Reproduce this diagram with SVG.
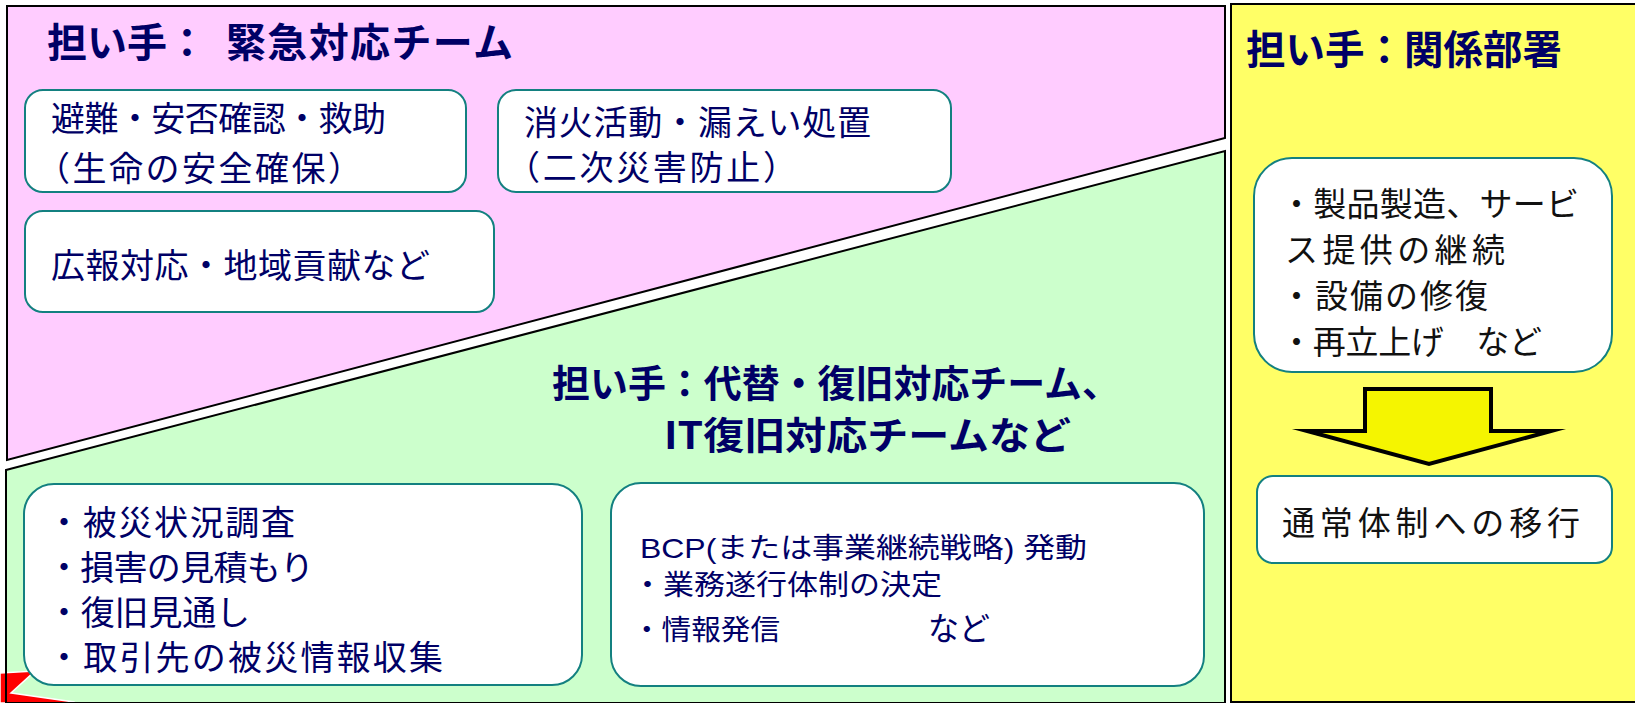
<svg xmlns="http://www.w3.org/2000/svg" width="1635" height="703" viewBox="0 0 1635 703">
<style>
.t{font-family:"Noto Sans CJK JP","Noto Sans CJK SC",sans-serif;fill:#000066}
.h{font-weight:bold;font-size:40px}
.h2{font-weight:bold;font-size:38px}
.b{font-size:34px}
.y{font-size:33px;fill:#111111}
.s{font-size:28px}
.bcp{font-family:"Liberation Sans","Noto Sans CJK JP",sans-serif;font-size:28px;fill:#000066}
.box{fill:#ffffff;stroke:#138080;stroke-width:2}
.edge{stroke:#000000;stroke-width:2}
</style>
<rect width="1635" height="703" fill="#ffffff"/>
<g id="panels">
<polygon points="7,6 1225,6 1225,138 7,460" fill="#ffccff" class="edge"/>
<polygon points="6,470 1225,151 1225,703 6,703" fill="#ccffcc"/>
<polygon points="0,673 35,671 11,693 74,702 74,703 0,703" fill="#ff0000" stroke="#ffffff" stroke-width="1.5"/>
<polygon points="6,470 1225,151 1225,703 6,703" fill="none" class="edge"/>
<rect x="1231" y="4" width="410" height="698" fill="#ffff66" class="edge"/>
</g>
<g id="title-emergency">
<text class="t h" x="47" y="57">担い手：<tspan x="226" textLength="287" lengthAdjust="spacing">緊急対応チーム</tspan></text>
</g>
<g id="title-recovery">
<text class="t h2" x="552" y="397" textLength="568" lengthAdjust="spacingAndGlyphs">担い手：代替・復旧対応チーム、</text>
<text class="t h2" x="664" y="449" textLength="407" lengthAdjust="spacingAndGlyphs">IT復旧対応チームなど</text>
</g>
<g id="title-dept">
<text class="t h" x="1246" y="64" textLength="316" lengthAdjust="spacingAndGlyphs">担い手：関係部署</text>
</g>
<g id="node-evacuation">
<rect class="box" x="25" y="90" width="441" height="102" rx="18"/>
<text class="t b" x="51" y="131" textLength="335" lengthAdjust="spacing">避難・安否確認・救助</text>
<text class="t b" x="36" y="181" textLength="326" lengthAdjust="spacing">（生命の安全確保）</text>
</g>
<g id="node-firefighting">
<rect class="box" x="498" y="90" width="453" height="102" rx="18"/>
<text class="t b" x="524" y="135" textLength="347" lengthAdjust="spacing">消火活動・漏えい処置</text>
<text class="t b" x="506" y="180" textLength="291" lengthAdjust="spacing">（二次災害防止）</text>
</g>
<g id="node-pr">
<rect class="box" x="25" y="211" width="469" height="101" rx="18"/>
<text class="t b" x="51" y="278" textLength="379" lengthAdjust="spacing">広報対応・地域貢献など</text>
</g>
<g id="node-survey">
<rect class="box" x="24" y="484" width="558" height="201" rx="30"/>
<text class="t b" x="47" y="535" textLength="248" lengthAdjust="spacing">・被災状況調査</text>
<text class="t b" x="47" y="580" textLength="267" lengthAdjust="spacing">・損害の見積もり</text>
<text class="t b" x="47" y="625" textLength="203" lengthAdjust="spacing">・復旧見通し</text>
<text class="t b" x="47" y="670" textLength="396" lengthAdjust="spacing">・取引先の被災情報収集</text>
</g>
<g id="node-bcp">
<rect class="box" x="611" y="483" width="593" height="203" rx="30"/>
<text class="bcp" x="640" y="558" textLength="447" lengthAdjust="spacingAndGlyphs">BCP(または事業継続戦略) 発動</text>
<text class="t s" x="632" y="595" textLength="310" lengthAdjust="spacingAndGlyphs">・業務遂行体制の決定</text>
<text class="t s" x="632" y="640" textLength="148" lengthAdjust="spacingAndGlyphs">・情報発信</text>
<text class="t" x="928" y="640" font-size="32" textLength="62" lengthAdjust="spacingAndGlyphs">など</text>
</g>
<g id="node-production">
<rect class="box" x="1254" y="158" width="358" height="214" rx="38"/>
<text class="t y" x="1280" y="216" textLength="299" lengthAdjust="spacing">・製品製造、サービ</text>
<text class="t y" x="1285" y="262" textLength="220" lengthAdjust="spacing">ス提供の継続</text>
<text class="t y" x="1280" y="308" textLength="208" lengthAdjust="spacing">・設備の修復</text>
<text class="t y" x="1280" y="354" textLength="262" lengthAdjust="spacing">・再立上げ　など</text>
</g>
<g id="node-normal">
<rect class="box" x="1257" y="476" width="355" height="87" rx="16"/>
<text class="t y" x="1282" y="535" textLength="298" lengthAdjust="spacing">通常体制への移行</text>
</g>
<g id="connectors">
<polygon points="1365,389 1491,389 1491,431 1551,431 1429,464 1307,431 1365,431" fill="#f5f500" stroke="#000000" stroke-width="4" stroke-miterlimit="12"/>
</g>
</svg>
